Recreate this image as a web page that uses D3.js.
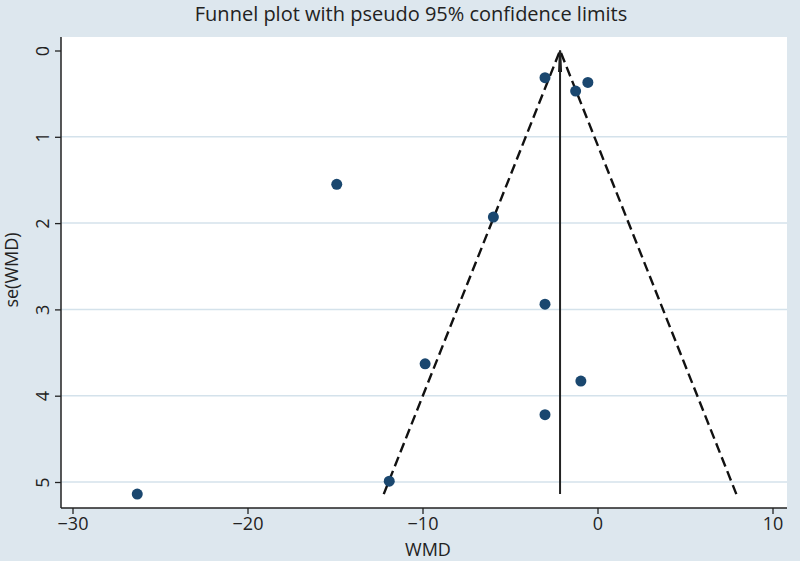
<!DOCTYPE html>
<html><head><meta charset="utf-8">
<script src="https://cdn.jsdelivr.net/npm/d3@7"></script>
<style>body{margin:0;background:#dde7ee;} svg{display:block;}</style>
</head><body>
<svg id="c" width="800" height="561"></svg>
<script>
// Data
const wmd   = [-3.0, -1.25, -0.55, -14.9, -5.95, -3.0, -9.85, -0.95, -3.0, -11.9, -26.3];
const seWmd = [0.315, 0.47, 0.37, 1.55, 1.93, 2.94, 3.63, 3.83, 4.22, 4.99, 5.14];
const pooled = -2.14;
const xTicks = [-30, -20, -10, 0, 10];
const yTicks = [0, 1, 2, 3, 4, 5];
const titleText = "Funnel plot with pseudo 95% confidence limits";
const xLabel = "WMD";
const yLabel = "se(WMD)";

(function() {
const svg = d3.select("#c");
const W = 800, H = 561;
const pL = 61, pR = 787, pT = 37, pB = 508;

svg.append("rect").attr("width", W).attr("height", H).attr("fill", "#dde7ee");
svg.append("rect").attr("x", pL).attr("y", pT).attr("width", pR - pL).attr("height", pB - pT).attr("fill", "#ffffff");

const x = d3.scaleLinear().domain([-30, 10]).range([72.5, 772.5]);
const y = d3.scaleLinear().domain([0, 5]).range([50.5, 482]);

const font = "'Open Sans',sans-serif";

// gridlines
svg.append("g").selectAll("line").data(yTicks.slice(1)).join("line")
  .attr("x1", pL).attr("x2", pR)
  .attr("y1", d => y(d)).attr("y2", d => y(d))
  .attr("stroke", "#d4e2eb").attr("stroke-width", 1.5);

// funnel
const seMax = d3.max(seWmd);
const funnel = d3.line().x(d => x(d[0])).y(d => y(d[1]));
svg.append("path").attr("d", funnel([[pooled - 1.96 * seMax, seMax], [pooled, 0], [pooled + 1.96 * seMax, seMax]]))
  .attr("fill", "none").attr("stroke", "#111").attr("stroke-width", 2.4)
  .attr("stroke-dasharray", "10,5");
svg.append("path").attr("d", funnel([[pooled - 0.05, 0.25], [pooled, 0], [pooled + 0.05, 0.25]]))
  .attr("fill", "none").attr("stroke", "#111").attr("stroke-width", 2.2);
svg.append("line").attr("x1", x(pooled)).attr("x2", x(pooled))
  .attr("y1", y(0)).attr("y2", y(seMax))
  .attr("stroke", "#222").attr("stroke-width", 2);

// points
svg.append("g").selectAll("circle").data(wmd.map((v, i) => [v, seWmd[i]])).join("circle")
  .attr("cx", d => x(d[0])).attr("cy", d => y(d[1])).attr("r", 5.5)
  .attr("fill", "#1a476f");

// axes
const xAxis = d3.axisBottom(x).tickValues(xTicks).tickSize(6).tickPadding(3)
  .tickFormat(d => d < 0 ? "\u2212" + Math.abs(d) : d);
const gx = svg.append("g").attr("transform", `translate(0,${pB})`).call(xAxis);
gx.select(".domain").attr("d", `M${pL},0H${pR}`).attr("stroke", "#222").attr("stroke-width", 1.5);
gx.selectAll(".tick line").attr("stroke", "#222").attr("stroke-width", 1.3);
gx.selectAll("text").attr("font-family", font).attr("font-size", 18).attr("fill", "#222");

const yAxis = d3.axisLeft(y).tickValues(yTicks).tickSize(6).tickFormat(d3.format("d"));
const gy = svg.append("g").attr("transform", `translate(${pL},0)`).call(yAxis);
gy.select(".domain").attr("d", `M0,${pT}V${pB}`).attr("stroke", "#222").attr("stroke-width", 1.5);
gy.selectAll(".tick line").attr("stroke", "#222").attr("stroke-width", 1.3);
gy.selectAll("text").attr("font-family", font).attr("font-size", 18).attr("fill", "#222")
  .attr("x", 0).attr("y", -12).attr("dy", null).attr("text-anchor", "middle")
  .attr("transform", "rotate(-90)");

// labels
svg.append("text").attr("x", 411).attr("y", 21).attr("text-anchor", "middle")
  .attr("font-family", font).attr("font-size", 20).attr("fill", "#222").text(titleText);
svg.append("text").attr("x", 428).attr("y", 556).attr("text-anchor", "middle")
  .attr("font-family", font).attr("font-size", 18).attr("fill", "#222").text(xLabel);
svg.append("text").attr("transform", "translate(18,270) rotate(-90)").attr("text-anchor", "middle")
  .attr("font-family", font).attr("font-size", 18).attr("fill", "#222").text(yLabel);
})();
</script>
</body></html>
